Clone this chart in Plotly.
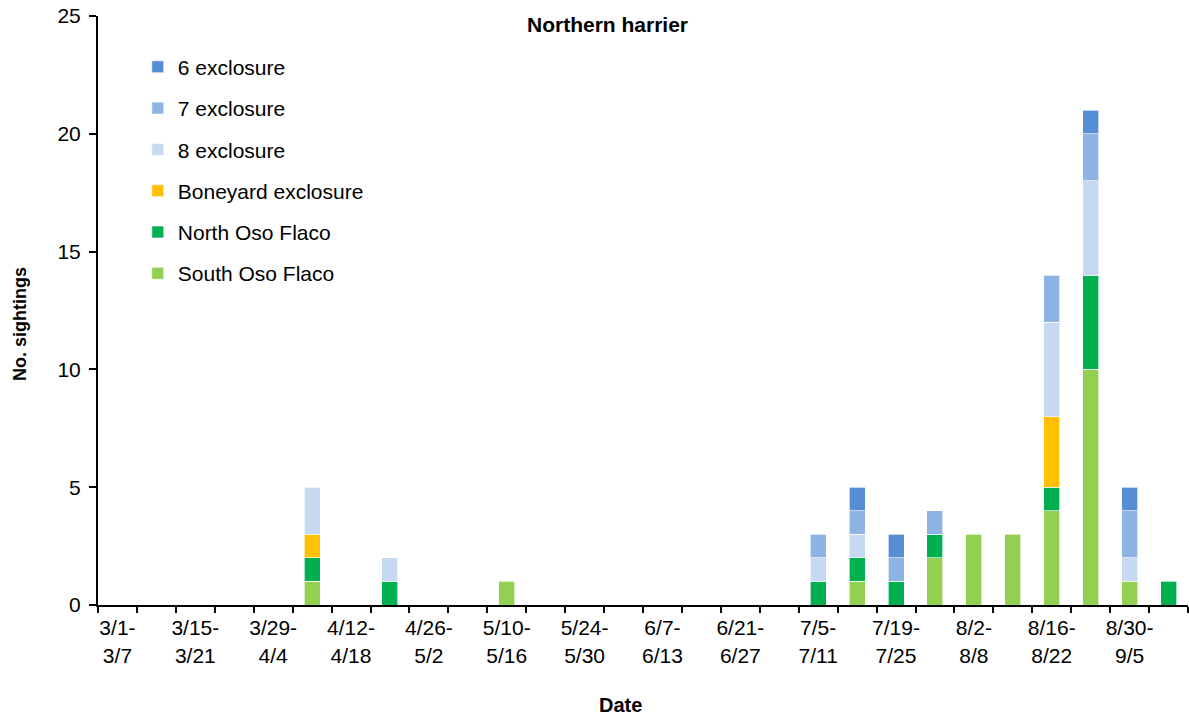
import plotly.graph_objects as go

weeks = ["3/1-3/7", "3/8-3/14", "3/15-3/21", "3/22-3/28", "3/29-4/4", "4/5-4/11",
         "4/12-4/18", "4/19-4/25", "4/26-5/2", "5/3-5/9", "5/10-5/16", "5/17-5/23",
         "5/24-5/30", "5/31-6/6", "6/7-6/13", "6/14-6/20", "6/21-6/27", "6/28-7/4",
         "7/5-7/11", "7/12-7/18", "7/19-7/25", "7/26-8/1", "8/2-8/8", "8/9-8/15",
         "8/16-8/22", "8/23-8/29", "8/30-9/5", "9/6-9/12"]

south_oso = [0, 0, 0, 0, 0, 1, 0, 0, 0, 0, 1, 0, 0, 0, 0, 0, 0, 0, 0, 1, 0, 2, 3, 3, 4, 10, 1, 0]
north_oso = [0, 0, 0, 0, 0, 1, 0, 1, 0, 0, 0, 0, 0, 0, 0, 0, 0, 0, 1, 1, 1, 1, 0, 0, 1, 4, 0, 1]
boneyard  = [0, 0, 0, 0, 0, 1, 0, 0, 0, 0, 0, 0, 0, 0, 0, 0, 0, 0, 0, 0, 0, 0, 0, 0, 3, 0, 0, 0]
excl_8    = [0, 0, 0, 0, 0, 2, 0, 1, 0, 0, 0, 0, 0, 0, 0, 0, 0, 0, 1, 1, 0, 0, 0, 0, 4, 4, 1, 0]
excl_7    = [0, 0, 0, 0, 0, 0, 0, 0, 0, 0, 0, 0, 0, 0, 0, 0, 0, 0, 1, 1, 1, 1, 0, 0, 2, 2, 2, 0]
excl_6    = [0, 0, 0, 0, 0, 0, 0, 0, 0, 0, 0, 0, 0, 0, 0, 0, 0, 0, 0, 1, 1, 0, 0, 0, 0, 1, 1, 0]

series = [
    ("South Oso Flaco", south_oso, "#92D050"),
    ("North Oso Flaco", north_oso, "#00B050"),
    ("Boneyard exclosure", boneyard, "#FFC000"),
    ("8 exclosure", excl_8, "#C6D9F1"),
    ("7 exclosure", excl_7, "#8EB4E3"),
    ("6 exclosure", excl_6, "#558ED5"),
]

FONT = "Arial, Liberation Sans, sans-serif"

fig = go.Figure()
n = len(series)
for i, (name, vals, color) in enumerate(series):
    fig.add_trace(go.Bar(
        x=weeks,
        y=[v if v else None for v in vals],
        name=name,
        legendgroup=name,
        legendrank=n - i,
        marker=dict(color=color, line=dict(color="rgba(255,255,255,0.8)", width=0.8)),
    ))

ticktext = []
for i, w in enumerate(weeks):
    if i % 2 == 0:
        a, b = w.split("-")
        ticktext.append(a + "-<br>" + b)
    else:
        ticktext.append("")

fig.update_layout(
    width=1189, height=717,
    margin=dict(l=98, r=1, t=16, b=112),
    barmode="stack",
    bargap=0.59,
    plot_bgcolor="white",
    paper_bgcolor="white",
    font=dict(family=FONT, size=21, color="black"),
    showlegend=True,
    legend=dict(
        x=0.0365, y=0.948, xanchor="left", yanchor="top",
        traceorder="grouped",
        tracegroupgap=11,
        font=dict(family=FONT, size=21, color="black"),
        bgcolor="rgba(0,0,0,0)",
    ),
    xaxis=dict(
        type="category",
        tickmode="array",
        tickvals=weeks,
        ticktext=ticktext,
        tickangle=0,
        tickson="boundaries",
        ticks="outside", ticklen=6, tickwidth=2, tickcolor="black",
        ticklabelstandoff=3,
        showline=True, linecolor="black", linewidth=2,
        showgrid=False, zeroline=False,
        tickfont=dict(family=FONT, size=21, color="black"),
    ),
    yaxis=dict(
        range=[0, 25],
        tickmode="linear", tick0=0, dtick=5,
        ticks="outside", ticklen=7, tickwidth=2, tickcolor="black",
        ticklabelstandoff=4,
        showline=True, linecolor="black", linewidth=2,
        showgrid=False, zeroline=False,
        tickfont=dict(family=FONT, size=21, color="black"),
    ),
    annotations=[
        dict(text="<b>Northern harrier</b>", xref="paper", yref="paper",
             x=0.467, y=0.986, xanchor="center", yanchor="middle", showarrow=False,
             font=dict(family=FONT, size=21, color="black")),
        dict(text="<b>No. sightings</b>", xref="paper", yref="paper",
             x=-0.0716, y=0.477, xanchor="center", yanchor="middle", showarrow=False,
             textangle=-90, font=dict(family=FONT, size=18, color="black")),
        dict(text="<b>Date</b>", xref="paper", yref="paper",
             x=0.479, y=-0.17, xanchor="center", yanchor="middle", showarrow=False,
             font=dict(family=FONT, size=20, color="black")),
    ],
)

fig.write_html("out.html", config={"displayModeBar": False},
               post_script="document.body.style.margin='0';")
